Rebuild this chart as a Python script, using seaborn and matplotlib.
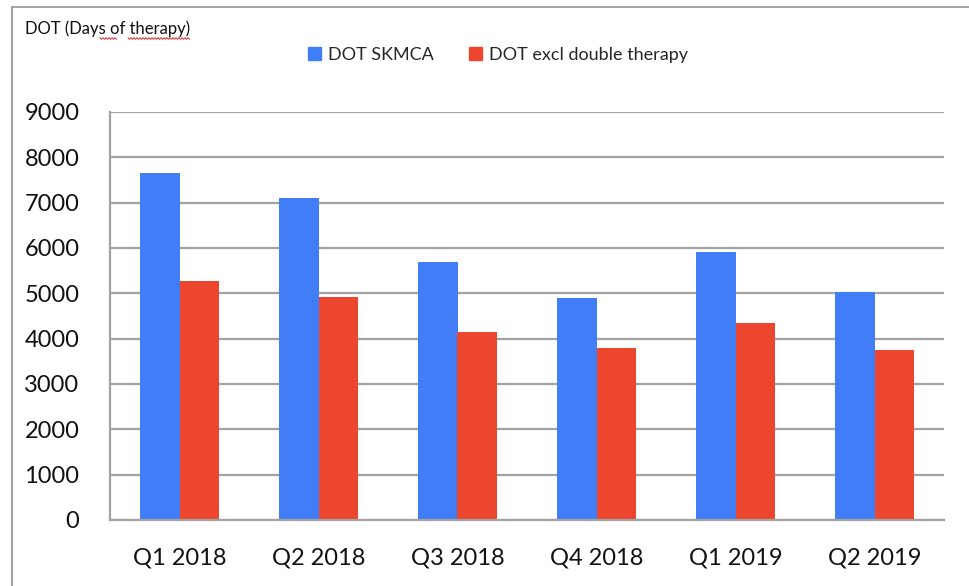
import numpy as np
import pandas as pd
import seaborn as sns
import matplotlib.pyplot as plt
from matplotlib.lines import Line2D

# Data
quarters = ["Q1 2018", "Q2 2018", "Q3 2018", "Q4 2018", "Q1 2019", "Q2 2019"]
dot_skmca = [7660, 7110, 5690, 4890, 5920, 5040]
dot_excl_double = [5270, 4930, 4150, 3790, 4350, 3760]
series_names = ["DOT SKMCA", "DOT excl double therapy"]
colors = ["#407df6", "#ec472e"]

df = pd.DataFrame({
    "quarter": quarters * 2,
    "series": [series_names[0]] * len(quarters) + [series_names[1]] * len(quarters),
    "value": dot_skmca + dot_excl_double,
})

sns.set_style("white")
plt.rcParams["font.family"] = ["Lato", "DejaVu Sans"]

fig = plt.figure(figsize=(9.69, 5.86), dpi=100)
ax = fig.add_axes([110 / 969, 66 / 586, 834 / 969, 408 / 586])

sns.barplot(data=df, x="quarter", y="value", hue="series", palette=colors,
            width=0.575, gap=0, saturation=1, linewidth=0, ax=ax, legend=False)

grid_col = "#a3a3a3"
ax.set_ylim(0, 9000)
ax.set_xlim(-0.5, len(quarters) - 0.5)
ax.set_yticks(range(0, 9001, 1000))
ax.yaxis.grid(True, color=grid_col, linewidth=1.6)
ax.set_axisbelow(True)
ax.set_xlabel("")
ax.set_ylabel("")
for side in ["top", "right"]:
    ax.spines[side].set_visible(False)
for side in ["left", "bottom"]:
    ax.spines[side].set_color(grid_col)
    ax.spines[side].set_linewidth(1.6)

# x ticks at category boundaries
ax.set_xticks(np.arange(-0.5, len(quarters), 1.0), minor=True)
ax.tick_params(axis="x", which="major", length=0, pad=20, labelsize=17, colors="#111111")
ax.tick_params(axis="x", which="minor", length=7, width=1.6, color=grid_col)
ax.tick_params(axis="y", length=7, width=1.6, color=grid_col, pad=15, labelsize=17, labelcolor="#111111")

# legend
handles = [plt.Rectangle((0, 0), 1, 1, color=c) for c in colors]
ax.legend(handles, series_names, loc="center", bbox_to_anchor=(498 / 969, 1 - 55 / 586),
          bbox_transform=fig.transFigure, ncol=2, frameon=False, fontsize=13,
          handlelength=0.75, handleheight=0.75, handletextpad=0.4, columnspacing=1.9)

# title
fig.text(25 / 969, 1 - 29 / 586, "DOT (Days of therapy)", fontsize=12, color="#111111",
         va="center", ha="left")

# spell-check squiggle under "of therapy"
for x0, x1 in [(100, 117), (128, 190)]:
    xs = np.arange(x0, x1 + 0.1, 1.5)
    ys = 38.5 + np.where(np.arange(len(xs)) % 2 == 0, -0.8, 0.8)
    fig.add_artist(Line2D(xs / 969, 1 - ys / 586, color="#e04040", linewidth=0.8,
                          transform=fig.transFigure))

# outer frame
fig.add_artist(Line2D([12 / 969, 12 / 969], [0, 1 - 7 / 586], color=grid_col, linewidth=1.5,
                      transform=fig.transFigure))
fig.add_artist(Line2D([12 / 969, 1], [1 - 7 / 586, 1 - 7 / 586], color=grid_col, linewidth=1.5,
                      transform=fig.transFigure))

fig.savefig("out.png", dpi=100)
